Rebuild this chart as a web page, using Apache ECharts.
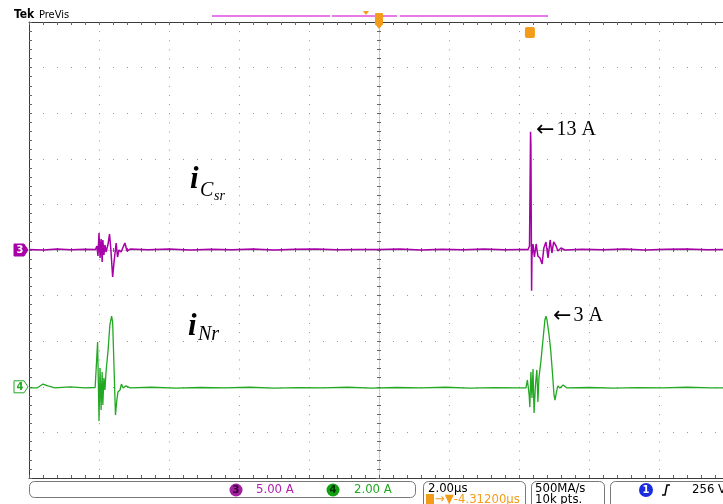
<!DOCTYPE html>
<html><head><meta charset="utf-8">
<script src="https://cdn.jsdelivr.net/npm/echarts@6/dist/echarts.min.js"></script>
<style>html,body{margin:0;padding:0;background:#fff;overflow:hidden}#c{width:723px;height:504px}</style>
</head><body><div id="c"></div>
<script>
// time in microseconds relative to screen centre (2 us/div)
const ch3Time = [-10.00,-9.60,-9.20,-8.80,-8.40,-8.10,-8.06,-8.03,-8.00,-7.97,-7.94,-7.91,-7.89,-7.86,-7.83,-7.80,-7.74,-7.70,-7.66,-7.61,-7.57,-7.51,-7.47,-7.43,-7.37,-7.31,-7.26,-7.20,-7.11,-6.60,-6.00,-5.40,-4.80,-4.20,-3.60,-3.00,-2.40,-1.80,-1.20,-0.60,0.00,0.60,1.20,1.80,2.40,3.00,3.60,4.00,4.26,4.30,4.33,4.34,4.36,4.37,4.40,4.44,4.49,4.54,4.60,4.66,4.71,4.77,4.83,4.89,4.94,4.99,5.06,5.11,5.20,5.31,5.80,6.40,7.00,7.60,8.20,8.80,9.40,10.00];
// channel 3 current, A (5 A/div)
const ch3Amps = [0.05,0.00,0.10,0.03,0.08,0.05,0.44,-0.66,1.86,-0.88,1.21,-1.32,1.10,-0.55,0.55,-0.22,0.66,1.75,0.00,-2.96,-1.32,0.77,-0.77,0.00,-0.22,0.33,0.77,-0.11,0.10,0.02,0.10,0.00,0.08,0.04,0.10,0.00,0.07,0.10,0.02,0.06,0.05,0.10,0.00,0.08,0.04,0.10,0.02,0.06,0.05,0.44,12.97,11.50,-4.46,-0.66,0.66,-0.77,0.66,-0.66,-0.88,-1.53,0.22,0.88,-0.88,1.10,-0.33,0.88,0.44,-0.11,0.22,0.00,0.08,0.03,0.10,0.00,0.07,0.10,0.02,0.05];
const ch4Time = [-10.00,-9.77,-9.60,-9.46,-9.26,-8.83,-8.40,-8.11,-8.07,-8.04,-8.01,-8.00,-7.97,-7.94,-7.91,-7.89,-7.86,-7.83,-7.80,-7.74,-7.69,-7.64,-7.61,-7.59,-7.56,-7.53,-7.49,-7.46,-7.40,-7.36,-7.31,-7.23,-7.11,-6.50,-5.80,-5.10,-4.40,-3.70,-3.00,-2.30,-1.60,-0.90,-0.20,0.50,1.20,1.90,2.60,3.30,4.00,4.20,4.24,4.29,4.31,4.34,4.37,4.40,4.43,4.47,4.51,4.54,4.57,4.63,4.69,4.74,4.77,4.80,4.86,4.91,4.96,5.00,5.03,5.07,5.11,5.17,5.26,5.37,6.00,6.70,7.40,8.10,8.80,9.50,10.00];
// channel 4 current, A (2 A/div)
const ch4Amps = [-0.05,-0.05,0.12,0.04,-0.05,0.00,-0.05,-0.03,-0.05,1.96,-0.58,-1.50,0.82,-1.02,0.65,-0.80,0.39,-0.14,0.65,1.61,2.71,3.10,2.84,1.83,0.30,-1.24,-0.58,-0.23,-0.14,0.12,-0.05,0.04,-0.05,-0.02,-0.06,-0.03,-0.05,-0.02,-0.06,-0.04,-0.05,-0.02,-0.06,-0.03,-0.05,-0.02,-0.06,-0.04,-0.05,-0.05,0.30,-0.36,-0.89,0.65,-0.49,0.78,-1.15,0.08,0.74,-0.67,0.39,1.18,2.14,2.93,3.10,2.93,2.27,1.53,0.52,-0.36,-0.58,-0.23,0.04,-0.05,0.08,-0.05,-0.03,-0.06,-0.04,-0.05,-0.02,-0.05,-0.04];
const ch3Scale = '5.00 A';
const ch4Scale = '2.00 A';
const timeScale = '2.00\u00b5s';
const trigOffset = '\u2192\u25bc-4.31200\u00b5s';
const sampleRate = '500MA/s';
const recordLen = '10k pts.';
const trigLevel = '256 V';
const peak3Label = '13 A';
const peak4Label = '3 A';

const GRID = '#999', BORDER = '#3a3a3a', TICK = '#666';
const C3 = '#a800a8', C4 = '#22a822', ORANGE = '#f39c1a';
const SANS = '"DejaVu Sans Condensed","Liberation Sans Narrow","DejaVu Sans",sans-serif';
const SERIF = '"Liberation Serif","DejaVu Serif",serif';

function zip(a, b) { return a.map((v, i) => [v, b[i]]); }

const chart = echarts.init(document.getElementById('c'), null, {renderer: 'canvas'});

function borderX(pos) {
  return {type: 'value', min: -10, max: 10, interval: 2, position: pos,
    axisLine: {show: true, onZero: false, lineStyle: {color: BORDER, width: 1}},
    axisTick: {show: true, inside: true, length: 3, lineStyle: {color: TICK}},
    minorTick: {show: true, splitNumber: 5, length: 3, lineStyle: {color: TICK}},
    axisLabel: {show: false}, splitLine: {show: false}};
}
function centreX(inside) {
  return {type: 'value', min: -10, max: 10, interval: 2, position: 'bottom',
    axisLine: {show: true, onZero: true, onZeroAxisIndex: 0, lineStyle: {color: '#bbb', width: 1, type: [1, 2]}},
    axisTick: {show: true, inside: inside, length: 2, lineStyle: {color: TICK}},
    minorTick: {show: true, splitNumber: 5, length: 2, lineStyle: {color: TICK}},
    axisLabel: {show: false}, splitLine: {show: false}};
}
function centreY(inside) {
  return {type: 'value', min: -25, max: 25, interval: 5, position: 'left',
    axisLine: {show: true, onZero: true, onZeroAxisIndex: 0, lineStyle: {color: '#bbb', width: 1, type: [1, 2]}},
    axisTick: {show: true, inside: inside, length: 2, lineStyle: {color: TICK}},
    minorTick: {show: true, splitNumber: 5, length: 2, lineStyle: {color: TICK}},
    axisLabel: {show: false}, splitLine: {show: false}};
}

const xMain = borderX('bottom');
xMain.splitLine = {show: true, lineStyle: {color: GRID, width: 1, type: [1, 8.12]}};

const option = {
  animation: false,
  backgroundColor: '#fff',
  grid: {left: 29, right: -6, top: 22, bottom: 26, containLabel: false, outerBoundsMode: 'none'},
  xAxis: [xMain, borderX('top'), centreX(true), centreX(false)],
  yAxis: [
    {type: 'value', min: -25, max: 25, interval: 5, position: 'left',
      axisLine: {show: true, onZero: false, lineStyle: {color: BORDER, width: 1}},
      axisTick: {show: true, inside: true, length: 3, lineStyle: {color: TICK}},
      minorTick: {show: true, splitNumber: 5, length: 3, lineStyle: {color: TICK}},
      axisLabel: {show: false},
      splitLine: {show: true, lineStyle: {color: GRID, width: 1, type: [1, 13]}}},
    {type: 'value', min: -4, max: 16, interval: 2, position: 'right', show: false,
      axisLine: {onZero: false}, splitLine: {show: false}},
    centreY(true), centreY(false)
  ],
  series: [
    {type: 'line', name: 'CH3', xAxisIndex: 0, yAxisIndex: 0, data: zip(ch3Time, ch3Amps),
      showSymbol: false, symbol: 'none', lineStyle: {color: C3, width: 1.5}, z: 5},
    {type: 'line', name: 'CH4', xAxisIndex: 0, yAxisIndex: 1, data: zip(ch4Time, ch4Amps),
      showSymbol: false, symbol: 'none', lineStyle: {color: C4, width: 1.3}, z: 4}
  ]
};
chart.setOption(option);

const y3 = chart.convertToPixel({yAxisIndex: 0}, 0);
const y4 = chart.convertToPixel({yAxisIndex: 1}, 0);
const xTrig = chart.convertToPixel({xAxisIndex: 0}, 4.312);
const xCtr = chart.convertToPixel({xAxisIndex: 0}, 0);

function chanMarker(y, num, fill, stroke, txtc) {
  return [
    {type: 'polygon', silent: true, z: 20, shape: {points: [[14, y - 6], [24, y - 6], [28, y], [24, y + 6], [14, y + 6]]},
      style: {fill: fill, stroke: stroke, lineWidth: 1}},
    {type: 'text', silent: true, z: 21, x: 20, y: y, style: {text: num, font: 'bold 11px ' + SANS, fill: txtc, align: 'center', verticalAlign: 'middle', textAlign: 'center', textVerticalAlign: 'middle'}}
  ];
}
function txt(x, y, s, font, fill, align) {
  return {type: 'text', silent: true, z: 30, x: x, y: y,
    style: {text: s, font: font, fill: fill, align: align || 'left', textAlign: align || 'left', verticalAlign: 'middle', textVerticalAlign: 'middle'}};
}
function arrowLabel(x, y, s) {
  return {type: 'text', silent: true, z: 30, x: x, y: y,
    style: {text: '{a|\u2190}{t|' + s + '}', align: 'left', verticalAlign: 'middle', textAlign: 'left', textVerticalAlign: 'middle',
      rich: {a: {font: '22px "DejaVu Sans",sans-serif', fill: '#000', padding: [0, 2, 0, 0]},
             t: {font: '20px ' + SERIF, fill: '#000'}}}};
}
function circ(cx, cy, r, fill, label, lc) {
  return [
    {type: 'circle', silent: true, z: 30, shape: {cx: cx, cy: cy, r: r}, style: {fill: fill}},
    txt(cx, cy, label, 'bold 11px ' + SANS, lc, 'center')
  ];
}

const g = [];
// top header
g.push(txt(14, 15, 'Tek', 'bold 12px ' + SANS, '#000'));
g.push(txt(39, 15, 'PreVis', '11px ' + SANS, '#000'));
// record view bar
g.push({type: 'line', silent: true, z: 30, shape: {x1: 212, y1: 16, x2: 330, y2: 16}, style: {stroke: '#e04ce0', lineWidth: 1.5}});
g.push({type: 'line', silent: true, z: 30, shape: {x1: 332, y1: 16, x2: 397, y2: 16}, style: {stroke: '#e04ce0', lineWidth: 1.5}});
g.push({type: 'line', silent: true, z: 30, shape: {x1: 400, y1: 16, x2: 548, y2: 16}, style: {stroke: '#e04ce0', lineWidth: 1.5}});
g.push({type: 'polygon', silent: true, z: 31, shape: {points: [[363, 11], [369, 11], [366, 15]]}, style: {fill: ORANGE}});
// expansion marker at centre
g.push({type: 'rect', silent: true, z: 31, shape: {x: xCtr - 4, y: 13, width: 8, height: 12, r: 1}, style: {fill: ORANGE}});
g.push({type: 'polygon', silent: true, z: 31, shape: {points: [[xCtr - 4, 24], [xCtr + 4, 24], [xCtr, 29]]}, style: {fill: ORANGE}});
g.push(txt(xCtr, 19, 'T', 'bold 9px ' + SANS, '#fff', 'center'));
// trigger marker
g.push({type: 'rect', silent: true, z: 31, shape: {x: xTrig - 5, y: 27, width: 10, height: 11, r: 2}, style: {fill: ORANGE}});
g.push(txt(xTrig, 32.5, 'T', 'bold 9px ' + SANS, '#fff', 'center'));
// channel ground markers
chanMarker(y3, '3', C3, C3, '#fff').forEach(e => g.push(e));
chanMarker(y4, '4', '#fff', C4, C4).forEach(e => g.push(e));
// annotations
g.push(txt(190, 180, 'i', 'italic bold 31px ' + SERIF, '#000'));
g.push(txt(200, 191, 'C', 'italic 20px ' + SERIF, '#000'));
g.push(txt(214, 196, 'sr', 'italic 14px ' + SERIF, '#000'));
g.push(txt(188, 327, 'i', 'italic bold 31px ' + SERIF, '#000'));
g.push(txt(198, 335, 'Nr', 'italic 20px ' + SERIF, '#000'));
g.push(arrowLabel(536, 130, peak3Label));
g.push(arrowLabel(553, 316, peak4Label));
// bottom status boxes
g.push({type: 'rect', silent: true, z: 30, shape: {x: 29.5, y: 481.5, width: 386, height: 16, r: 5}, style: {fill: 'none', stroke: '#777', lineWidth: 1}});
circ(236, 490, 6.5, '#a020a0', '3', '#300030').forEach(e => g.push(e));
g.push(txt(256, 490, ch3Scale, '13px ' + SANS, '#b020b0'));
circ(333, 490, 6.5, '#10a010', '4', '#003000').forEach(e => g.push(e));
g.push(txt(354, 490, ch4Scale, '13px ' + SANS, '#20a820'));
g.push({type: 'rect', silent: true, z: 30, shape: {x: 423.5, y: 481.5, width: 102, height: 30, r: 5}, style: {fill: 'none', stroke: '#777', lineWidth: 1}});
g.push(txt(428, 489, timeScale, '13px ' + SANS, '#000'));
g.push({type: 'rect', silent: true, z: 31, shape: {x: 426, y: 494, width: 8, height: 10}, style: {fill: ORANGE}});
g.push(txt(430, 499.5, 'T', 'bold 8px ' + SANS, '#fff', 'center'));
g.push(txt(435, 499.5, trigOffset, '13px ' + SANS, ORANGE));
g.push({type: 'rect', silent: true, z: 30, shape: {x: 531.5, y: 481.5, width: 73, height: 30, r: 5}, style: {fill: 'none', stroke: '#777', lineWidth: 1}});
g.push(txt(535, 489, sampleRate, '13px ' + SANS, '#000'));
g.push(txt(535, 500, recordLen, '13px ' + SANS, '#000'));
g.push({type: 'rect', silent: true, z: 30, shape: {x: 610.5, y: 481.5, width: 130, height: 30, r: 5}, style: {fill: 'none', stroke: '#777', lineWidth: 1}});
circ(646, 490, 7, '#1a2ee0', '1', '#fff').forEach(e => g.push(e));
g.push({type: 'polyline', silent: true, z: 31, shape: {points: [[662, 495], [665, 495], [667, 485], [670, 485]]}, style: {stroke: '#000', lineWidth: 1.5, fill: 'none'}});
g.push(txt(692, 490, trigLevel, '13px ' + SANS, '#000'));

chart.setOption({graphic: {elements: g}});
</script>
</body></html>
